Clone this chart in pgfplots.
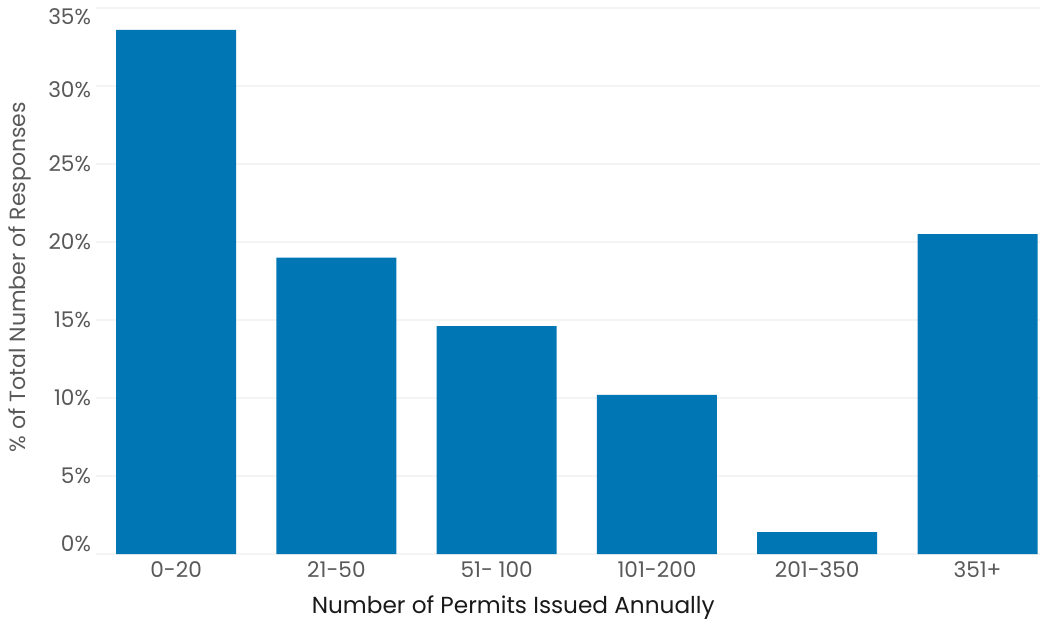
\documentclass[border=0pt]{standalone}
\usepackage{pgfplots}
\pgfplotsset{compat=1.18}
\usepackage{fontspec}
\setmainfont{Poppins}
\definecolor{barblue}{HTML}{0077B4}
\definecolor{ticktxt}{HTML}{595959}
\definecolor{gridc}{HTML}{F4F4F4}
\begin{document}
\begin{tikzpicture}
\useasboundingbox (-48pt,-36pt) rectangle (473pt,277pt);
\begin{axis}[
  scale only axis,
  width=472pt, height=273pt,
  xmin=-0.5, xmax=5.39,
  ymin=0, ymax=35,
  ytick={0,5,...,35},
  yticklabels={\smash{\raisebox{1.2pt}{0\%}},5\%,10\%,15\%,20\%,25\%,\smash{\raisebox{-5.8pt}{30\%}},\smash{\raisebox{-8.3pt}{35\%}}},
  xtick={0,1,2,3,4,5},
  xticklabels={0-20,21-50,51- 100,101-200,201-350,351+},
  axis line style={draw=none},
  major tick length=0pt,
  ymajorgrids,
  grid style={gridc, line width=0.6pt},
  tick label style={font=\fontsize{10.8}{12}\selectfont, text=ticktxt},
  /pgf/number format/assume math mode=true,
  xticklabel style={yshift=-0.5pt},
  yticklabel style={xshift=1pt},
  xlabel={Number of Permits Issued Annually},
  ylabel={\% of Total Number of Responses},
  every axis x label/.style={at={(axis description cs:0.442,0)}, yshift=-27pt, anchor=center, font=\fontsize{11.6}{14}\selectfont, text=black!90},
  every axis y label/.style={at={(axis description cs:0,0.507)}, xshift=-38pt, rotate=90, anchor=center, font=\fontsize{11}{12}\selectfont, text=ticktxt},
]
\addplot[ybar, bar width=60pt, fill=barblue, draw=none] coordinates {
  (0,33.6) (1,19.0) (2,14.6) (3,10.2) (4,1.4) (5,20.5)
};
\end{axis}
\end{tikzpicture}
\end{document}
